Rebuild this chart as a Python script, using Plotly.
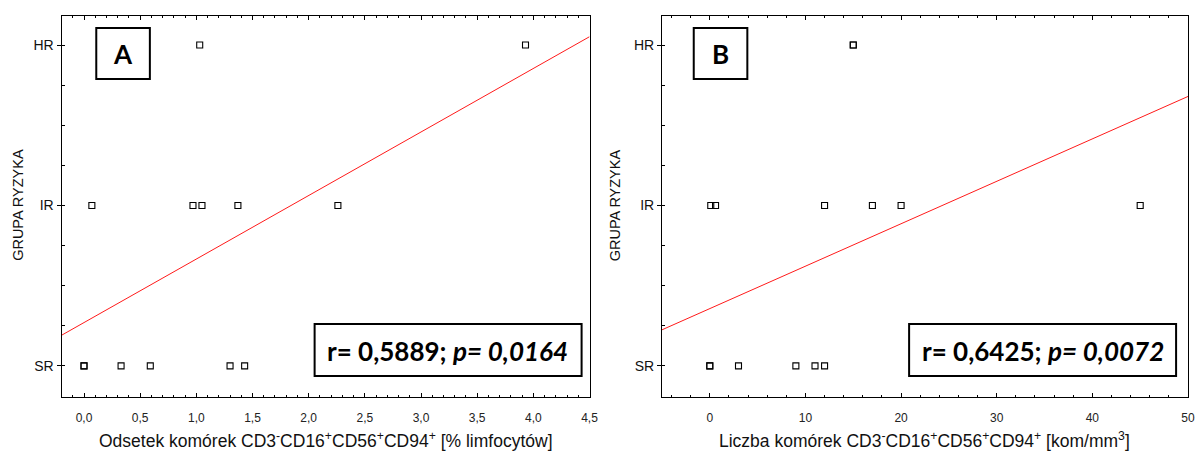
import plotly.graph_objects as go
import numpy as np

W, H = 1197, 452

# ---- data ----
risk_labels = ["SR", "IR", "HR"]          # y categories -> 1, 2, 3
# Panel A: percent of lymphocytes
a_hr = [1.03, 3.93]
a_ir = [0.07, 0.97, 1.05, 1.37, 2.26]
a_sr = [0.0, 0.0, 0.33, 0.59, 1.30, 1.43]
fit_a = [1.27, 0.396]                      # intercept, slope of red line
# Panel B: count cells/mm3
b_hr = [15.0, 15.0]
b_ir = [0.1, 0.6, 12.0, 17.0, 20.0, 45.0]
b_sr = [0.0, 0.0, 3.0, 9.0, 11.0, 12.0]
fit_b = [1.357, 0.02645]

stat_a = "r= 0,5889; <i>p= 0,0164</i>"
stat_b = "r= 0,6425; <i>p= 0,0072</i>"
title_a = "Odsetek komórek CD3<sup>-</sup>CD16<sup>+</sup>CD56<sup>+</sup>CD94<sup>+</sup> [% limfocytów]"
title_b = "Liczba komórek CD3<sup>-</sup>CD16<sup>+</sup>CD56<sup>+</sup>CD94<sup>+</sup> [kom/mm<sup>3</sup>]"
y_title = "GRUPA RYZYKA"

xr_a = [-0.2, 4.5]
xr_b = [-5, 50]
yr = [0.806, 3.181]

def px(x):
    return x / W

def py(y):
    return 1 - y / H

fig = go.Figure()

def add_panel(hr, ir, sr, fit, xr, xa, ya):
    xs = hr + ir + sr
    ys = [3] * len(hr) + [2] * len(ir) + [1] * len(sr)
    fig.add_trace(go.Scatter(
        x=xs, y=ys, mode="markers", xaxis=xa, yaxis=ya, showlegend=False,
        marker=dict(symbol="square-open", size=6, color="black", line=dict(width=1.1, color="black")),
    ))
    lx = np.array(xr, dtype=float)
    ly = fit[0] + fit[1] * lx
    fig.add_trace(go.Scatter(
        x=lx, y=ly, mode="lines", xaxis=xa, yaxis=ya, showlegend=False,
        line=dict(color="#ff1a1a", width=1), cliponaxis=True,
    ))

add_panel(a_hr, a_ir, a_sr, fit_a, xr_a, "x", "y")
add_panel(b_hr, b_ir, b_sr, fit_b, xr_b, "x2", "y2")

ydom = [py(397), py(16)]
yminor = [1 + 0.25 * i for i in range(-1, 10)]

def y_axis(anchor, ticks, labels, side="left", overlay=None):
    d = dict(
        range=yr, domain=ydom, tickmode="array", tickvals=[1, 2, 3], ticktext=risk_labels,
        showline=True, mirror=True, linecolor="black", linewidth=1, side=side, anchor=anchor,
        ticks=ticks, ticklen=4, tickcolor="black", showgrid=False, zeroline=False,
        showticklabels=labels,
        tickfont=dict(family="Liberation Sans, Arial", size=14, color="#111"),
        minor=dict(tickmode="array", tickvals=yminor, ticks="inside", ticklen=3, tickcolor="black"),
    )
    if overlay:
        d["overlaying"] = overlay
    return d

common_x = dict(
    showline=True, mirror="allticks", linecolor="black", linewidth=1,
    ticks="inside", ticklen=4, tickcolor="black", showgrid=False, zeroline=False,
    tickfont=dict(family="Liberation Sans, Arial", size=12, color="#222"),
    ticklabelstandoff=10, ticklabeloverflow="allow",
)

fig.update_layout(
    width=W, height=H, margin=dict(l=0, r=0, t=0, b=0),
    paper_bgcolor="white", plot_bgcolor="white",
    separators=",.",
    xaxis=dict(domain=[px(62), px(594)], range=xr_a, anchor="y", tick0=0, dtick=0.5, tickformat=".1f",
               minor=dict(tick0=0, dtick=0.1, ticks="inside", ticklen=2, tickcolor="black"), **common_x),
    xaxis2=dict(domain=[px(667), 1.0], range=xr_b, anchor="y2", tick0=0, dtick=10, tickformat="d",
                minor=dict(tick0=0, dtick=2, ticks="inside", ticklen=2, tickcolor="black"), **common_x),
    yaxis=y_axis("x", "outside", True),
    yaxis2=y_axis("x2", "outside", True),
    yaxis3=y_axis("x", "inside", False, side="right", overlay="y"),
    yaxis4=y_axis("x2", "inside", False, side="right", overlay="y2"),
)

lbl_font = dict(family="Liberation Sans, Arial", size=17.5, color="#111")
ann = [
    dict(x=px(328), y=py(440), text=title_a, font=lbl_font),
    dict(x=px(932), y=py(440), text=title_b, font=lbl_font),
    dict(x=px(18), y=py(205), text=y_title, textangle=-90, font=dict(family="Liberation Sans, Arial", size=14.5, color="#111")),
    dict(x=px(620), y=py(205), text=y_title, textangle=-90, font=dict(family="Liberation Sans, Arial", size=14.5, color="#111")),
    dict(x=px(124), y=py(54), text="<b>A</b>", font=dict(family="Lato", size=26, color="black")),
    dict(x=px(726), y=py(54), text="<b>B</b>", font=dict(family="Lato", size=26, color="black")),
    dict(x=px(451), y=py(351), text="<b>" + stat_a + "</b>", font=dict(family="Lato", size=26, color="black")),
    dict(x=px(1051), y=py(351), text="<b>" + stat_b + "</b>", font=dict(family="Lato", size=26, color="black")),
]
for a in ann:
    a.update(xref="paper", yref="paper", showarrow=False, xanchor="center", yanchor="middle")
    fig.add_annotation(**a)

boxes = [(97, 28, 151, 79), (699, 28, 753, 79), (317, 324, 586, 376), (916, 324, 1185, 376)]
for x0, y0, x1, y1 in boxes:
    fig.add_shape(type="rect", xref="paper", yref="paper",
                  x0=px(x0), x1=px(x1), y0=py(y1), y1=py(y0),
                  line=dict(color="black", width=2), fillcolor="rgba(0,0,0,0)")

fig.write_html("out.html")
